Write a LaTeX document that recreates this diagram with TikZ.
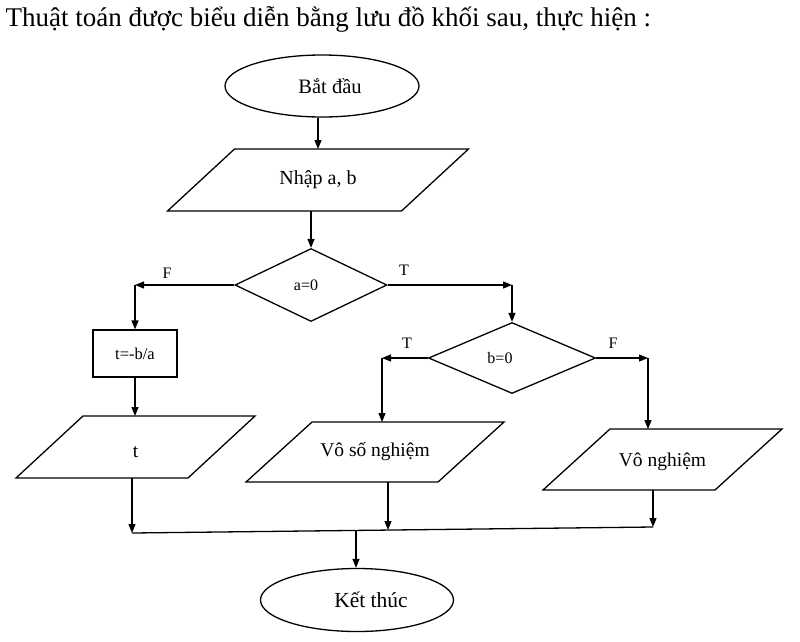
\documentclass[tikz,border=0pt]{standalone}
\usepackage{fontspec}
\setmainfont{Liberation Serif}
\usetikzlibrary{shapes.geometric,arrows.meta,calc}
\newcommand\drawpara[2]{\draw ([xshift=#2]#1.north west) -- ([xshift=#2]#1.north east) -- ([xshift=-#2]#1.south east) -- ([xshift=-#2]#1.south west) -- cycle;}
\begin{document}
\begin{tikzpicture}[x=1pt,y=-1pt,line width=1.3pt,
  arr/.style={-{Triangle[length=9pt,width=7pt]}},
  txt/.style={font=\fontsize{19.5}{22}\selectfont},
  small/.style={font=\fontsize{16}{18}\selectfont},
  lbl/.style={font=\fontsize{16}{18}\selectfont,inner sep=0pt},
  term/.style={draw,ellipse,inner sep=0pt,font=\fontsize{20.5}{24}\selectfont},
  dec/.style={draw,diamond,inner sep=0pt,small},
  pbox/.style={rectangle,inner sep=0pt,outer sep=0pt,txt},
  proc/.style={draw,rectangle,inner sep=0pt,small}]
\fill[white] (0,0) rectangle (800,641);
\useasboundingbox (0,0) rectangle (800,641);
\node[anchor=base west,inner sep=0pt,font=\fontsize{27}{30}\selectfont] (title) at (5,26) {Thuật toán được biểu diễn bằng lưu đồ khối sau, thực hiện :};
% nodes
\node[term,minimum width=194pt,minimum height=62pt] (start) at (322,86) {\hspace*{16pt}Bắt đầu};
\node[pbox,minimum width=234pt,minimum height=62pt,font=\fontsize{20}{22}\selectfont] (nhap) at (318,180) {Nhập a, b};
\drawpara{nhap}{33.5pt}
\node[dec,minimum width=152pt,minimum height=73pt] (d1) at (311,285) {a=0\hspace*{10pt}};
\node[proc,minimum width=84pt,minimum height=47pt,font=\fontsize{16.5}{20}\selectfont] (tba) at (135,353.5) {t=-b/a};
\node[pbox,minimum width=172pt,minimum height=62pt] (tp) at (135.5,447) {\rule{0pt}{21pt}t};
\drawpara{tp}{33.5pt}
\node[dec,minimum width=167pt,minimum height=71pt] (d2) at (512,358) {b=0\hspace*{24pt}};
\node[pbox,minimum width=192pt,minimum height=60pt] (vs) at (375,452) {Vô số nghiệm};
\drawpara{vs}{33pt}
\node[pbox,minimum width=172pt,minimum height=61pt] (vn) at (662.5,459.5) {\rule{0pt}{18pt}Vô nghiệm};
\drawpara{vn}{33.5pt}
\node[term,minimum width=193pt,minimum height=63pt,font=\fontsize{21.5}{24}\selectfont] (end) at (357,600) {\hspace*{28pt}Kết thúc};
% labels
\node[lbl] (lf1) at (167,273) {F};
\node[lbl] (lt1) at (404,270) {T};
\node[lbl] (lt2) at (407,343) {T};
\node[lbl] (lf2) at (613,343) {F};
% helper coordinates
\coordinate (c1) at (tba.north |- d1.west);
\coordinate (c2) at (d2.north |- d1.east);
\coordinate (c3) at (382,358);
\coordinate (c4) at (648,358);
\coordinate (m1) at (132,533);
\coordinate (m2) at (388,530);
\coordinate (m3) at (653,527);
\coordinate (m0) at (356,531);
% connectors
\draw[arr] (start.south -| nhap.north) -- (nhap.north);
\draw[arr] (d1.north |- nhap.south) -- (d1.north);
\draw[arr] (d1.west) -- (c1);
\draw[arr] (c1) -- (tba.north);
\draw[arr] (d1.east) -- (c2);
\draw[arr] (c2) -- (d2.north);
\draw[arr] (d2.west) -- (c3);
\draw[arr] (c3) -- (c3 |- vs.north);
\draw[arr] (d2.east) -- (c4);
\draw[arr] (c4) -- (c4 |- vn.north);
\draw[arr] (tba.south) -- (tba.south |- tp.north);
\draw[arr] (m1 |- tp.south) -- (m1);
\draw[arr] (m2 |- vs.south) -- (m2);
\draw[arr] (m3 |- vn.south) -- (m3);
\draw (m1) -- (m3);
\draw[arr] (m0) -- (m0 |- end.north);
\end{tikzpicture}
\end{document}
